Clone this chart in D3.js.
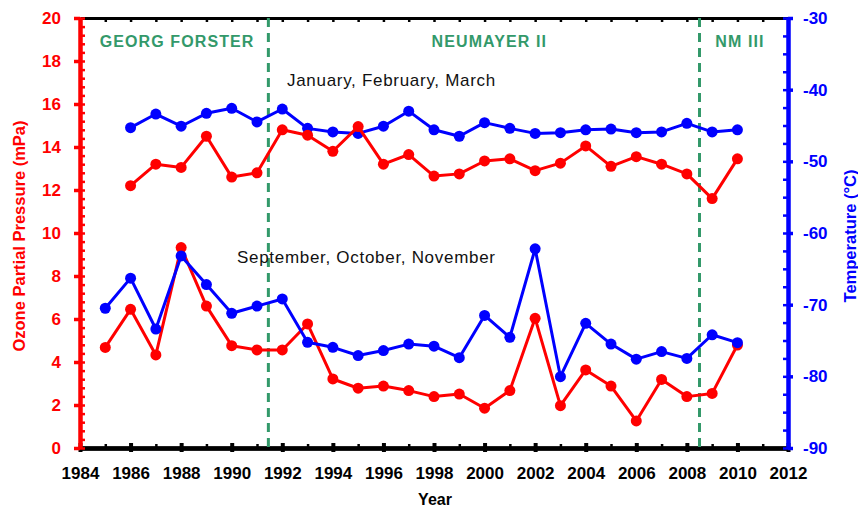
<!DOCTYPE html>
<html>
<head>
<meta charset="utf-8">
<script src="https://cdn.jsdelivr.net/npm/d3@7"></script>
<style>
  body { margin: 0; background: #fff; }
  text { font-family: "Liberation Sans", Arial, sans-serif; }
</style>
</head>
<body>
<div id="chart"></div>
<script>
// January, February, March (1986-2010)
var jfmYears = d3.range(1986, 2011);
var jfmOzone = [12.2, 13.2, 13.05, 14.5, 12.6, 12.8, 14.8, 14.55, 13.8, 14.95, 13.2, 13.65, 12.65,
    12.75, 13.35, 13.45, 12.9, 13.25, 14.05, 13.1, 13.55, 13.2, 12.75, 11.6, 13.45];
var jfmTemp = [-45.3, -43.4, -45.1, -43.3, -42.6, -44.5, -42.7, -45.4, -45.9, -46.1, -45.1, -43.0, -45.6,
    -46.5, -44.6, -45.4, -46.1, -46.0, -45.6, -45.5, -46.0, -45.9, -44.7, -45.9, -45.6];

// September, October, November (1985-2010)
var sonYears = d3.range(1985, 2011);
var sonOzone = [4.68, 6.45, 4.33, 9.32, 6.6, 4.76, 4.56, 4.56, 5.77, 3.21, 2.78, 2.88, 2.67, 2.39,
    2.51, 1.85, 2.67, 6.03, 1.97, 3.63, 2.88, 1.26, 3.19, 2.39, 2.54, 4.79];
var sonTemp = [-70.5, -66.3, -73.4, -63.2, -67.2, -71.2, -70.2, -69.2, -75.25, -75.95, -77.1, -76.4, -75.5,
    -75.8, -77.4, -71.5, -74.55, -62.2, -80.05, -72.6, -75.5, -77.6, -76.55, -77.5, -74.2, -75.3];

// station changes
var stationBreaks = [1991.45, 2008.5];
var stationNames = ["GEORG FORSTER", "NEUMAYER II", "NM III"];

var xTicks = d3.range(1984, 2013, 2);
var leftTicks = d3.range(0, 21, 2);
var rightTicks = d3.range(-90, -29, 10);

var width = 858, height = 508;
var plotL = 80, plotR = 788, plotT = 18, plotB = 448;

var x = d3.scaleLinear().domain([1984, 2012]).range([plotL, plotR]);
var yL = d3.scaleLinear().domain([0, 20]).range([plotB, plotT]);
var yR = d3.scaleLinear().domain([-90, -30]).range([plotB, plotT]);

var svg = d3.select("#chart").append("svg")
    .attr("width", width)
    .attr("height", height);

var red = "#ff0000", blue = "#0000ff", green = "#33996a";

function styleAxis(g, color, w) {
    g.select(".domain").attr("stroke", color).attr("stroke-width", w);
    g.selectAll(".tick line").attr("stroke", color).attr("stroke-width", 2.5);
}

// top border
svg.append("g")
    .attr("transform", "translate(0," + plotT + ")")
    .call(d3.axisTop(x).tickValues(d3.range(1984, 2013)).tickSizeInner(-4).tickSizeOuter(0).tickFormat(""))
    .call(styleAxis, "#000", 3);

// bottom axis
svg.append("g")
    .attr("transform", "translate(0," + plotB + ")")
    .call(d3.axisBottom(x).tickValues(d3.range(1985, 2012, 2)).tickSizeInner(-4).tickSizeOuter(0).tickFormat(""))
    .call(styleAxis, "#000", 4);
svg.append("g")
    .attr("transform", "translate(0," + plotB + ")")
    .call(d3.axisBottom(x).tickValues(xTicks).tickSizeInner(-5).tickSizeOuter(0).tickFormat(""))
    .call(styleAxis, "#000", 4)
    .selectAll(".tick line").attr("stroke-width", 4);
var xAxis = svg.append("g")
    .attr("transform", "translate(0," + plotB + ")")
    .call(d3.axisBottom(x).tickValues(xTicks).tickSizeInner(4).tickSizeOuter(0).tickPadding(15).tickFormat(d3.format("d")))
    .call(styleAxis, "#000", 4);
xAxis.selectAll(".tick line").attr("stroke-width", 4);
xAxis.selectAll("text")
    .attr("fill", "#000")
    .style("font-size", "17px")
    .style("font-weight", "bold");

// left axis
svg.append("g")
    .attr("transform", "translate(" + plotL + ",0)")
    .call(d3.axisLeft(yL).tickValues(d3.range(0, 20.01, 0.4)).tickSizeInner(-5).tickSizeOuter(0).tickFormat(""))
    .call(styleAxis, red, 4);
var yLeft = svg.append("g")
    .attr("transform", "translate(" + plotL + ",0)")
    .call(d3.axisLeft(yL).tickValues(leftTicks).tickSizeInner(6).tickSizeOuter(0).tickPadding(13).tickFormat(d3.format("d")))
    .call(styleAxis, red, 4);
yLeft.selectAll(".tick line").attr("stroke-width", 3.5);
yLeft.selectAll("text")
    .attr("fill", red)
    .style("font-size", "17px")
    .style("font-weight", "bold");

// right axis
svg.append("g")
    .attr("transform", "translate(" + plotR + ",0)")
    .call(d3.axisRight(yR).tickValues(d3.range(-90, -29.9, 2.5)).tickSizeInner(-5).tickSizeOuter(0).tickFormat(""))
    .call(styleAxis, blue, 4);
var yRight = svg.append("g")
    .attr("transform", "translate(" + plotR + ",0)")
    .call(d3.axisRight(yR).tickValues(rightTicks).tickSizeInner(5).tickSizeOuter(0).tickPadding(10).tickFormat(function (d) { return String(d); }))
    .call(styleAxis, blue, 4);
yRight.selectAll(".tick line").attr("stroke-width", 3.5);
yRight.selectAll("text")
    .attr("fill", blue)
    .style("font-size", "17px")
    .style("font-weight", "bold");

// axis titles
svg.append("text")
    .attr("transform", "translate(25,236) rotate(-90)")
    .attr("text-anchor", "middle")
    .attr("fill", red)
    .style("font-size", "16.5px")
    .style("font-weight", "bold")
    .text("Ozone Partial Pressure (mPa)");
svg.append("text")
    .attr("transform", "translate(856,236) rotate(-90)")
    .attr("text-anchor", "middle")
    .attr("fill", blue)
    .style("font-size", "16.5px")
    .style("font-weight", "bold")
    .text("Temperature (\u00b0C)");
svg.append("text")
    .attr("x", 435)
    .attr("y", 505)
    .attr("text-anchor", "middle")
    .attr("fill", "#000")
    .style("font-size", "16px")
    .style("font-weight", "bold")
    .text("Year");

// station breaks
svg.selectAll(".break")
    .data(stationBreaks)
    .enter().append("line")
    .attr("class", "break")
    .attr("x1", function (d) { return x(d); })
    .attr("x2", function (d) { return x(d); })
    .attr("y1", plotT)
    .attr("y2", plotB)
    .attr("stroke", green)
    .attr("stroke-width", 3)
    .attr("stroke-dasharray", "9,6");

// station names (centered within each period)
var labelAt = [1987.84, 2000.19, 2010.1];
svg.selectAll(".station")
    .data(stationNames)
    .enter().append("text")
    .attr("class", "station")
    .attr("x", function (d, i) { return x(labelAt[i]); })
    .attr("y", 47)
    .attr("text-anchor", "middle")
    .attr("fill", green)
    .style("font-size", "16px")
    .style("font-weight", "bold")
    .style("letter-spacing", "1.1px")
    .text(function (d) { return d; });

// season labels
svg.append("text")
    .attr("x", 287)
    .attr("y", 86)
    .attr("fill", "#111")
    .style("font-size", "17px")
    .style("letter-spacing", "0.7px")
    .text("January, February, March");
svg.append("text")
    .attr("x", 237)
    .attr("y", 263)
    .attr("fill", "#111")
    .style("font-size", "17px")
    .style("letter-spacing", "0.7px")
    .text("September, October, November");

function drawSeries(yrs, vals, yScale, color) {
    var pts = yrs.map(function (d, i) { return [d, vals[i]]; });
    var line = d3.line()
        .x(function (d) { return x(d[0]); })
        .y(function (d) { return yScale(d[1]); });
    var g = svg.append("g");
    g.append("path")
        .datum(pts)
        .attr("d", line)
        .attr("fill", "none")
        .attr("stroke", color)
        .attr("stroke-width", 3)
        .attr("stroke-linejoin", "round");
    g.selectAll("circle")
        .data(pts)
        .enter().append("circle")
        .attr("cx", function (d) { return x(d[0]); })
        .attr("cy", function (d) { return yScale(d[1]); })
        .attr("r", 5.5)
        .attr("fill", color);
}

drawSeries(sonYears, sonOzone, yL, red);
drawSeries(sonYears, sonTemp, yR, blue);
drawSeries(jfmYears, jfmTemp, yR, blue);
drawSeries(jfmYears, jfmOzone, yL, red);
</script>
</body>
</html>
